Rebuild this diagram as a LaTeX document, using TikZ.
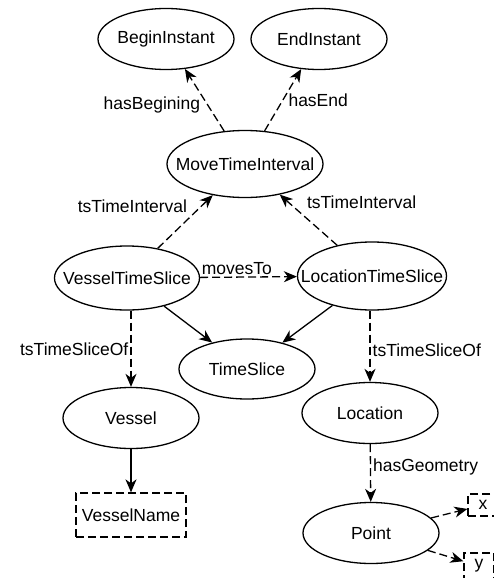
\documentclass[tikz,border=0pt]{standalone}
\usepackage{fontspec}
\setmainfont{Liberation Sans}
\usetikzlibrary{arrows.meta,
                shapes.geometric
            }

\newcommand{\nm}[1]{\makebox[0pt]{#1}}

\begin{document}
\begin{tikzpicture}[x=1pt, y=-1pt,
        font=\fontsize{17.5}{20}\selectfont,
        concept/.style={draw, ellipse, line width=1.3pt, inner sep=0pt, minimum width=136pt, minimum height=61pt},
        literal/.style={draw, dash pattern=on 8pt off 4pt, line width=1.3pt, inner sep=2pt},
        rel/.style={-{Stealth[length=13pt, width=11pt, inset=4pt]}, line width=1.3pt},
        prop/.style={rel, dash pattern=on 8pt off 4pt},
        lbl/.style={inner sep=2pt}]
            \useasboundingbox (0,0) rectangle (494,578);
            \clip (0,0) rectangle (494,578);
            \node[concept] (begin) at (166,39) {\nm{BeginInstant}};
            \node[concept] (end) at (319,39) {\nm{EndInstant}};
            \node[concept, minimum width=156pt, minimum height=67pt] (mti) at (245,164) {\nm{MoveTimeInterval}};
            \node[concept, minimum width=145pt, minimum height=64pt] (vts) at (127,278) {\nm{VesselTimeSlice}};
            \node[concept, minimum width=149pt, minimum height=68pt] (lts) at (372,276) {\nm{LocationTimeSlice}};
            \node[concept, minimum height=60pt] (ts) at (247,369) {\nm{TimeSlice}};
            \node[concept] (vessel) at (131,418) {\nm{Vessel}};
            \node[concept] (location) at (370,413) {\nm{Location}};
            \node[concept] (point) at (371,533) {\nm{Point}};
            \node[literal, minimum width=110pt, minimum height=44pt] (vname) at (131,515) {VesselName};
            \node[literal, minimum width=30pt, minimum height=22pt] (x) at (483,505) {x};
            \node[literal, minimum width=30pt, minimum height=26pt] (y) at (479,566) {y};
            \draw[prop] (mti) -- node[lbl, pos=.42, left, xshift=-5pt] {hasBegining} (begin);
            \draw[prop] (mti) -- node[lbl, pos=.5, right, xshift=3pt] {hasEnd} (end);
            \draw[prop] (vts) -- node[lbl, pos=.8, left=12pt] {tsTimeInterval} (mti);
            \draw[prop] (lts) -- node[lbl, pos=.85, right=16pt] {tsTimeInterval} (mti);
            \draw[prop] (vts) -- node[lbl, pos=.38, above] {movesTo} (lts);
            \draw[rel] (vts) -- (ts);
            \draw[rel] (lts) -- (ts);
            \draw[prop] (vts.south -| vessel) -- node[lbl, pos=.5, left] {tsTimeSliceOf} (vessel);
            \draw[prop] (lts.south -| location) -- node[lbl, pos=.55, right] {tsTimeSliceOf} (location);
            \draw[rel] (vessel) -- (vname);
            \draw[prop] (location) -- node[lbl, pos=.4, right] {hasGeometry} (point);
            \draw[prop] (point) -- (x);
            \draw[prop] (point) -- (y);
        \end{tikzpicture}
\end{document}
